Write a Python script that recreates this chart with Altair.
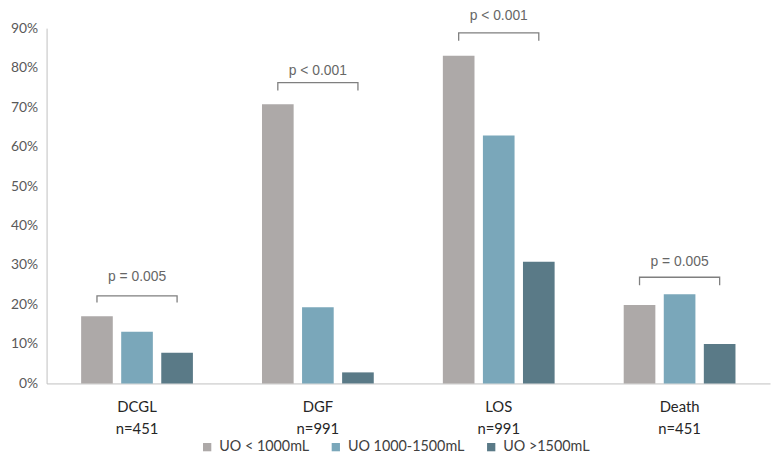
import altair as alt
import pandas as pd

categories = ["DCGL", "DGF", "LOS", "Death"]
n_labels = ["n=451", "n=991", "n=991", "n=451"]
groups = ["UO < 1000mL", "UO 1000-1500mL", "UO >1500mL"]
uo_low = [0.170, 0.707, 0.830, 0.199]
uo_mid = [0.131, 0.193, 0.628, 0.226]
uo_high = [0.078, 0.028, 0.308, 0.100]
p_texts = ["p = 0.005", "p < 0.001", "p < 0.001", "p = 0.005"]
bracket_top = [0.222, 0.762, 0.888, 0.269]
bracket_low = [0.205, 0.742, 0.868, 0.249]
text_y = [0.269, 0.791, 0.930, 0.308]
y_ticks = [0.0, 0.1, 0.2, 0.3, 0.4, 0.5, 0.6, 0.7, 0.8, 0.9]
colors = ["#ADA9A8", "#7AA7BA", "#5A7A87"]

cat_labels = [f"{c}|{n}" for c, n in zip(categories, n_labels)]

rows = []
for i, lab in enumerate(cat_labels):
    for g, vals in zip(groups, [uo_low, uo_mid, uo_high]):
        rows.append({"cat": lab, "group": g, "value": vals[i]})
bars_df = pd.DataFrame(rows)

brows = []
for i, lab in enumerate(cat_labels):
    pts = [(groups[0], bracket_low[i]), (groups[0], bracket_top[i]),
           (groups[2], bracket_top[i]), (groups[2], bracket_low[i])]
    for k, (g, v) in enumerate(pts):
        brows.append({"cat": lab, "group": g, "value": v, "ord": k})
br_df = pd.DataFrame(brows)

txt_df = pd.DataFrame({"cat": cat_labels, "value": text_y, "text": p_texts})

x_enc = alt.X("cat:N", sort=cat_labels,
              scale=alt.Scale(paddingInner=0.382, paddingOuter=0.191),
              axis=alt.Axis(title=None, labelExpr="split(datum.label, '|')",
                            labelAngle=0, ticks=False, domainColor="#BFBFBF",
                            labelFont="Lato", labelFontSize=15, labelColor="#262626",
                            labelLineHeight=23, labelPadding=16, labelBaseline="top"))
y_enc = alt.Y("value:Q", scale=alt.Scale(domain=[0, 0.9], nice=False),
              axis=alt.Axis(title=None, format=".0%", values=y_ticks,
                            grid=False, ticks=False, domainColor="#BFBFBF",
                            labelOverlap=False, labelFlush=False,
                            labelFont="Lato", labelFontSize=14, labelColor="#595959",
                            labelPadding=9))
xoff = alt.XOffset("group:N", sort=groups,
                   scale=alt.Scale(paddingInner=0.21, paddingOuter=0))

bars = alt.Chart(bars_df).mark_bar().encode(
    x=x_enc, y=y_enc, xOffset=xoff,
    color=alt.Color("group:N", sort=groups,
                    scale=alt.Scale(domain=groups, range=colors),
                    legend=alt.Legend(title=None, orient="none", direction="horizontal",
                                      legendX=155, legendY=416, columns=3,
                                      symbolType="square", symbolSize=70,
                                      symbolStrokeWidth=0, labelFont="Lato",
                                      labelFontSize=14.5, labelColor="#404040",
                                      columnPadding=19, padding=0, symbolOffset=0,
                                      labelOffset=5)),
)

brackets = alt.Chart(br_df).mark_line(color="#7F7F7F", strokeWidth=1.3).encode(
    x=x_enc, xOffset=xoff, y=y_enc, detail="cat:N", order="ord:Q",
)

texts = alt.Chart(txt_df).mark_text(font="Liberation Sans", fontSize=14,
                                     color="#666666", baseline="middle").encode(
    x=x_enc, y=y_enc, text="text:N",
)

chart = alt.layer(bars, brackets, texts).properties(
    width=731, height=359, autosize="none",
    padding={"left": 39, "top": 18, "right": 2, "bottom": 76},
).configure_view(stroke=None).configure_axisY(labelOverlap=False)

chart.save("out.html", embed_options={"renderer": "svg", "actions": False})
